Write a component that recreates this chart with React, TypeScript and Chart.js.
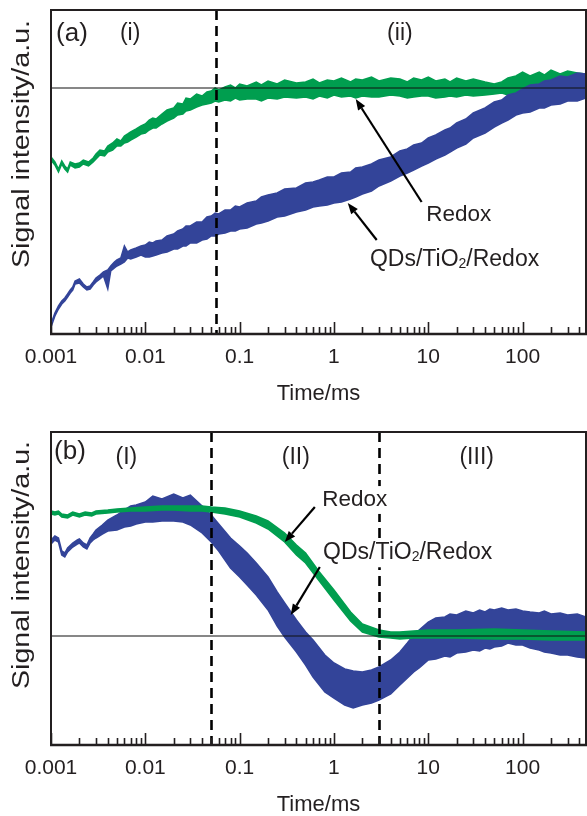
import React, { useEffect, useRef } from 'react';
import { Chart, registerables } from 'chart.js';
Chart.register(...registerables);

const GREEN = 'rgb(0,158,79)';
const BLUE = 'rgb(51,68,153)';
const INK = '#231f20';
const FONT = '"Liberation Sans", Arial, Helvetica, sans-serif';

const X_MIN = 0.001;
const X_MAX = 470;
const TICK_VALUES = [0.001, 0.01, 0.1, 1, 10, 100];
const TICK_LABELS = ['0.001', '0.01', '0.1', '1', '10', '100'];

// ---------- Panel (a) ----------
const A_REDOX_T = [0.001, 0.0011, 0.0012, 0.0013, 0.0014, 0.0015, 0.0016, 0.0018, 0.002, 0.0022, 0.0025, 0.0028, 0.003, 0.0033, 0.0037, 0.004, 0.0045, 0.005, 0.0055, 0.006, 0.0065, 0.007, 0.008, 0.009, 0.01, 0.011, 0.012, 0.013, 0.015, 0.017, 0.02, 0.022, 0.025, 0.027, 0.03, 0.035, 0.04, 0.045,
  0.05, 0.055, 0.06, 0.07, 0.08, 0.09, 0.1, 0.12, 0.15, 0.17, 0.2, 0.25, 0.3, 0.4, 0.5, 0.6, 0.7, 0.85, 1, 1.2, 1.5, 1.7, 2, 2.5, 3, 4, 5, 6, 7, 8.5, 10, 12, 15, 17, 20, 25, 30, 40, 50, 60, 70, 85, 100, 120, 150, 170, 200, 250, 300, 380, 470];
const A_REDOX_HI = [177, 172, 165, 173, 168, 165, 172, 170, 171, 174, 172, 176, 180, 184, 183, 188, 191, 195, 193, 198, 200, 202, 205, 208, 210, 214, 216, 215, 220, 224, 226, 231, 230, 236, 235, 240, 238, 242,
  243, 246, 244, 247, 249, 246, 250, 248, 252, 249, 253, 250, 254, 251, 252, 255, 251, 254, 253, 256, 252, 255, 254, 257, 253, 256, 255, 252, 256, 254, 257, 253, 255, 252, 256, 253, 255, 252, 250, 252, 256, 258, 262, 258, 262, 259, 264, 260, 263, 261, 260];
const A_REDOX_LO = [174, 169, 162, 170, 165, 162, 169, 166, 167, 170, 168, 172, 175, 179, 178, 182, 184, 188, 188, 191, 192, 194, 197, 200, 201, 204, 206, 206, 210, 213, 216, 219, 220, 223, 224, 227, 229, 230,
  231, 233, 232, 234, 233, 236, 234, 235, 235, 233, 236, 235, 237, 236, 237, 235, 238, 236, 239, 237, 238, 236, 238, 237, 237, 239, 238, 236, 237, 238, 238, 236, 237, 238, 237, 239, 238, 239, 240, 241, 239, 240, 240, 242, 242, 240, 241, 243, 241, 243, 244];

const A_QD_T = [0.001, 0.0011, 0.0012, 0.0013, 0.0014, 0.0015, 0.0016, 0.0017, 0.0018, 0.002, 0.0022, 0.0024, 0.0026, 0.0028, 0.003, 0.0033, 0.0036, 0.004, 0.0043, 0.0047, 0.005, 0.0055, 0.006, 0.0065, 0.007, 0.008, 0.009,
  0.01, 0.011, 0.012, 0.013, 0.015, 0.017, 0.02, 0.022, 0.025, 0.027, 0.03, 0.035, 0.04, 0.045, 0.05, 0.055, 0.06, 0.07, 0.08, 0.09,
  0.1, 0.12, 0.15, 0.17, 0.2, 0.25, 0.3, 0.4, 0.5, 0.6, 0.7, 0.85, 1, 1.2, 1.5, 1.7, 2, 2.5, 3, 4, 5, 6, 7, 8.5, 10, 12, 15, 17, 20, 25, 30, 40, 50, 60, 70, 85, 100, 120, 150, 170, 200, 250, 300, 380, 470];
const A_QD_HI = [10, 21, 28, 33, 36, 40, 44, 47, 53, 55, 50, 47, 48, 52, 56, 59, 62, 64, 68, 72, 74, 76, 88, 82, 84, 86, 88,
  89, 92, 91, 93, 94, 98, 100, 103, 105, 108, 108, 112, 112, 117, 118, 121, 120, 124, 124, 128,
  127, 131, 133, 137, 139, 141, 145, 146, 151, 152, 154, 157, 157, 161, 162, 166, 167, 170, 174, 177, 183, 185, 189, 191, 196, 199, 204, 206, 211, 215, 221, 226, 232, 234, 239, 241, 245, 249, 250, 253, 254, 258, 257, 261, 260];
const A_QD_LO = [7, 18, 25, 30, 33, 37, 41, 44, 50, 51, 47, 44, 45, 49, 52, 55, 58, 45, 63, 66, 68, 70, 72, 76, 75, 77, 79,
  77, 77, 78, 79, 81, 82, 85, 85, 88, 88, 91, 91, 94, 95, 98, 98, 100, 101, 103, 103,
  105, 106, 110, 111, 113, 117, 118, 122, 124, 127, 128, 129, 131, 132, 135, 137, 140, 143, 148, 153, 158, 161, 164, 168, 171, 175, 179, 182, 186, 190, 196, 201, 207, 211, 214, 219, 221, 222, 226, 226, 229, 230, 233, 233, 236];

const A_Y_MAX = 324;
const A_REF = 246;
const A_DIVIDERS = [0.056];

// ---------- Panel (b) ----------
const B_REDOX_T = [0.001, 0.0011, 0.0012, 0.0013, 0.0015, 0.0017, 0.002, 0.0023, 0.0027, 0.003, 0.004, 0.005, 0.007, 0.01, 0.015, 0.02, 0.03, 0.04, 0.05, 0.07, 0.1, 0.15, 0.2, 0.3, 0.4, 0.5, 0.7, 1, 1.5, 2, 3, 4, 5, 7, 10, 20, 50, 100, 200, 470];
const B_REDOX_HI = [234, 233, 234, 231, 230, 233, 231, 233, 232, 234, 235, 236, 237, 238, 239, 239, 239, 239, 238, 237, 234, 229, 224, 212, 200, 192, 173, 155, 133, 121, 115, 113, 113, 114, 115, 115, 116, 115, 114, 113];
const B_REDOX_LO = [231, 230, 231, 228, 227, 230, 228, 230, 229, 231, 232, 233, 234, 234, 235, 235, 234, 234, 233, 231, 228, 222, 216, 203, 190, 182, 164, 145, 124, 113, 108, 107, 106, 107, 107, 107, 106, 106, 105, 105];

const B_QD_T = [0.001, 0.0011, 0.0012, 0.0013, 0.0014, 0.0015, 0.0017, 0.0019, 0.002, 0.0022, 0.0024, 0.0026, 0.0028, 0.003, 0.0035, 0.004, 0.005, 0.006, 0.007, 0.008, 0.01, 0.012, 0.015, 0.02, 0.025, 0.03, 0.04, 0.05, 0.06, 0.08, 0.1, 0.12, 0.15, 0.2, 0.25, 0.3, 0.4, 0.5, 0.6, 0.8, 1, 1.3, 1.6, 2, 2.5, 3, 4, 5, 6, 7, 8,
  10, 12, 15, 17, 20, 25, 30, 35, 40, 45, 50, 60, 70, 85, 100, 120, 150, 170, 200, 250, 300, 380, 470];
const B_QD_HI = [205, 209, 207, 194, 192, 197, 202, 205, 206, 202, 200, 207, 211, 215, 220, 225, 230, 235, 239, 240, 243, 249, 246, 251, 247, 250, 239, 230, 221, 207, 199, 192, 182, 168, 153, 142, 125, 113, 105, 90, 82, 76, 74, 73, 75, 78, 85, 93, 102, 110, 115,
  123, 127, 128, 131, 130, 134, 132, 135, 133, 136, 135, 137, 135, 136, 134, 133, 132, 134, 131, 132, 130, 131, 128];
const B_QD_LO = [201, 205, 203, 190, 188, 193, 198, 201, 202, 198, 196, 202, 205, 207, 211, 214, 215, 218, 219, 221, 223, 223, 224, 224, 223, 220, 212, 203, 194, 177, 168, 160, 150, 135, 119, 108, 93, 80, 68, 53, 47, 40, 37, 40, 42, 45, 51, 60, 67, 73, 77,
  85, 86, 89, 88, 92, 93, 95, 94, 97, 96, 98, 99, 102, 100, 100, 97, 95, 93, 92, 90, 90, 88, 87];

const B_Y_MAX = 313;
const B_REF = 109;
const B_DIVIDERS = [0.05, 3];

type Part = { t: string; sub?: boolean };
type TextNote = { parts: Part[]; x: number; y: number; size: number; bg?: boolean };
type ArrowNote = { x1: number; y1: number; x2: number; y2: number };

const SUB_LABEL: Part[] = [{ t: 'QDs/TiO' }, { t: '2', sub: true }, { t: '/Redox' }];

const A_TEXTS: TextNote[] = [
  { parts: [{ t: '(a)' }], x: 0.00167, y: 300, size: 26 },
  { parts: [{ t: '(i)' }], x: 0.0069, y: 300, size: 23 },
  { parts: [{ t: '(ii)' }], x: 5, y: 300, size: 23 },
  { parts: [{ t: 'Redox' }], x: 21, y: 119, size: 22.5, bg: true },
  { parts: SUB_LABEL, x: 19, y: 74, size: 23, bg: true },
];
const A_ARROWS: ArrowNote[] = [
  { x1: 8.5, y1: 132, x2: 1.7, y2: 235 },
  { x1: 2.84, y1: 94, x2: 1.4, y2: 131 },
];

const B_TEXTS: TextNote[] = [
  { parts: [{ t: '(b)' }], x: 0.00159, y: 293, size: 26 },
  { parts: [{ t: '(I)' }], x: 0.0063, y: 287, size: 23 },
  { parts: [{ t: '(II)' }], x: 0.394, y: 287, size: 23 },
  { parts: [{ t: '(III)' }], x: 32.6, y: 287, size: 23 },
  { parts: [{ t: 'Redox' }], x: 1.66, y: 245, size: 22.5, bg: true },
  { parts: SUB_LABEL, x: 6.05, y: 192, size: 23, bg: true },
];
const B_ARROWS: ArrowNote[] = [
  { x1: 0.627, y1: 238, x2: 0.301, y2: 203 },
  { x1: 0.708, y1: 178, x2: 0.348, y2: 130 },
];

const Y_TITLE = 'Signal intensity/a.u.';

function minorTicks(): number[] {
  const out: number[] = [];
  for (let e = -3; e <= 2; e++) {
    for (let m = 1; m <= 9; m++) {
      const v = Number((m * Math.pow(10, e)).toPrecision(3));
      if (v >= X_MIN && v <= X_MAX) out.push(v);
    }
  }
  return out;
}

function drawParts(ctx: CanvasRenderingContext2D, parts: Part[], x: number, y: number, size: number, bg?: boolean) {
  const subSize = Math.round(size * 0.62);
  let w = 0;
  const widths: number[] = [];
  parts.forEach((p) => {
    ctx.font = `${p.sub ? subSize : size}px ${FONT}`;
    const mw = ctx.measureText(p.t).width;
    widths.push(mw);
    w += mw;
  });
  let x0 = x - w / 2;
  if (bg) {
    ctx.fillStyle = '#ffffff';
    ctx.fillRect(x0 - 3, y - size * 0.62, w + 6, size * 1.24);
  }
  ctx.fillStyle = INK;
  ctx.textBaseline = 'middle';
  ctx.textAlign = 'left';
  parts.forEach((p, i) => {
    ctx.font = `${p.sub ? subSize : size}px ${FONT}`;
    ctx.fillText(p.t, x0, p.sub ? y + size * 0.2 : y);
    x0 += widths[i];
  });
}

function drawArrow(ctx: CanvasRenderingContext2D, x1: number, y1: number, x2: number, y2: number) {
  const ang = Math.atan2(y2 - y1, x2 - x1);
  const head = 11;
  const hw = 4.2;
  const bx = x2 - head * Math.cos(ang);
  const by = y2 - head * Math.sin(ang);
  ctx.strokeStyle = '#000';
  ctx.fillStyle = '#000';
  ctx.lineWidth = 2.2;
  ctx.setLineDash([]);
  ctx.beginPath();
  ctx.moveTo(x1, y1);
  ctx.lineTo(bx, by);
  ctx.stroke();
  ctx.beginPath();
  ctx.moveTo(x2, y2);
  ctx.lineTo(bx + hw * Math.sin(ang), by - hw * Math.cos(ang));
  ctx.lineTo(bx - hw * Math.sin(ang), by + hw * Math.cos(ang));
  ctx.closePath();
  ctx.fill();
}

type PanelCfg = {
  height: number;
  padTop: number;
  xHeight: number;
  titlePad: number;
  yMax: number;
  ref: number;
  dividers: number[];
  texts: TextNote[];
  arrows: ArrowNote[];
  series: { t: number[]; hi: number[]; lo: number[]; color: string }[];
  yTitleOffset: number;
};

function band(t: number[], v: number[]) {
  return t.map((x, i) => ({ x, y: v[i] }));
}

function makeConfig(p: PanelCfg): any {
  const datasets: any[] = [
    {
      data: [{ x: X_MIN, y: p.ref }, { x: X_MAX, y: p.ref }],
      borderColor: '#111',
      borderWidth: 1.2,
      pointRadius: 0,
      fill: false,
    },
  ];
  p.series.forEach((s) => {
    datasets.push({
      data: band(s.t, s.hi),
      borderColor: s.color,
      backgroundColor: s.color,
      borderWidth: 1.5,
      pointRadius: 0,
      tension: 0,
      fill: '+1',
    });
    datasets.push({
      data: band(s.t, s.lo),
      borderColor: s.color,
      backgroundColor: s.color,
      borderWidth: 1.5,
      pointRadius: 0,
      tension: 0,
      fill: false,
    });
  });

  const framePlugin = {
    id: 'frame',
    afterDatasetsDraw(chart: any) {
      const ctx: CanvasRenderingContext2D = chart.ctx;
      const a = chart.chartArea;
      const xs = chart.scales.x;
      const ys = chart.scales.y;
      ctx.save();
      ctx.strokeStyle = '#000';
      ctx.lineWidth = 2.6;
      ctx.setLineDash([10, 6]);
      p.dividers.forEach((v) => {
        const px = Math.round(xs.getPixelForValue(v)) + 0.5;
        ctx.beginPath();
        ctx.moveTo(px, a.top);
        ctx.lineTo(px, a.bottom);
        ctx.stroke();
      });
      ctx.setLineDash([]);
      p.texts.forEach((tn) => {
        drawParts(ctx, tn.parts, xs.getPixelForValue(tn.x), ys.getPixelForValue(tn.y), tn.size, tn.bg);
      });
      p.arrows.forEach((ar) => {
        drawArrow(ctx, xs.getPixelForValue(ar.x1), ys.getPixelForValue(ar.y1), xs.getPixelForValue(ar.x2), ys.getPixelForValue(ar.y2));
      });
      ctx.strokeStyle = INK;
      ctx.lineWidth = 2;
      ctx.strokeRect(a.left, a.top, a.right - a.left, a.bottom - a.top);
      ctx.lineWidth = 2.6;
      ctx.beginPath();
      ctx.moveTo(a.left - 1, a.bottom);
      ctx.lineTo(a.right + 1, a.bottom);
      ctx.stroke();
      ctx.lineWidth = 1.6;
      minorTicks().forEach((v) => {
        const px = Math.round(xs.getPixelForValue(v)) + 0.5;
        const major = TICK_VALUES.some((tv) => Math.abs(tv - v) / tv < 1e-6);
        ctx.beginPath();
        ctx.moveTo(px, a.bottom);
        ctx.lineTo(px, a.bottom - (major ? 12 : 7));
        ctx.stroke();
      });
      ctx.restore();
    },
    afterDraw(chart: any) {
      const ctx: CanvasRenderingContext2D = chart.ctx;
      const a = chart.chartArea;
      ctx.save();
      ctx.font = `23px ${FONT}`;
      const w = ctx.measureText(Y_TITLE).width;
      ctx.translate(23, a.top + p.yTitleOffset);
      ctx.rotate(-Math.PI / 2);
      ctx.scale(248 / w, 1);
      ctx.fillStyle = INK;
      ctx.textAlign = 'center';
      ctx.textBaseline = 'middle';
      ctx.fillText(Y_TITLE, 0, 0);
      ctx.restore();
    },
  };

  return {
    type: 'line',
    data: { datasets },
    options: {
      animation: false,
      responsive: false,
      maintainAspectRatio: false,
      events: [],
      layout: { padding: { top: p.padTop, right: 1, left: 51, bottom: 0 } },
      plugins: { legend: { display: false }, tooltip: { enabled: false } },
      scales: {
        x: {
          type: 'logarithmic',
          min: X_MIN,
          max: X_MAX,
          grid: { display: false, drawTicks: false },
          border: { display: false },
          afterBuildTicks: (s: any) => {
            s.ticks = TICK_VALUES.map((v) => ({ value: v }));
          },
          afterFit: (s: any) => {
            s.height = p.xHeight;
          },
          ticks: {
            autoSkip: false,
            maxRotation: 0,
            padding: 11,
            color: INK,
            font: { family: FONT, size: 21 },
            callback: (_v: any, i: number) => TICK_LABELS[i],
          },
          title: {
            display: true,
            text: 'Time/ms',
            color: INK,
            font: { family: FONT, size: 22, lineHeight: 1 },
            padding: { top: 0, bottom: p.titlePad },
          },
        },
        y: { type: 'linear', min: 0, max: p.yMax, display: false },
      },
    },
    plugins: [framePlugin],
  };
}

const PANEL_A: PanelCfg = {
  height: 416,
  padTop: 10,
  xHeight: 82,
  titlePad: 11,
  yMax: A_Y_MAX,
  ref: A_REF,
  dividers: A_DIVIDERS,
  texts: A_TEXTS,
  arrows: A_ARROWS,
  series: [
    { t: A_QD_T, hi: A_QD_HI, lo: A_QD_LO, color: BLUE },
    { t: A_REDOX_T, hi: A_REDOX_HI, lo: A_REDOX_LO, color: GREEN },
  ],
  yTitleOffset: 134,
};

const PANEL_B: PanelCfg = {
  height: 400,
  padTop: 16,
  xHeight: 71,
  titlePad: 0,
  yMax: B_Y_MAX,
  ref: B_REF,
  dividers: B_DIVIDERS,
  texts: B_TEXTS,
  arrows: B_ARROWS,
  series: [
    { t: B_REDOX_T, hi: B_REDOX_HI, lo: B_REDOX_LO, color: GREEN },
    { t: B_QD_T, hi: B_QD_HI, lo: B_QD_LO, color: BLUE },
  ],
  yTitleOffset: 133,
};

function Panel({ cfg, top }: { cfg: PanelCfg; top: number }) {
  const ref = useRef<HTMLCanvasElement | null>(null);
  useEffect(() => {
    if (!ref.current) return;
    const chart = new Chart(ref.current, makeConfig(cfg));
    return () => chart.destroy();
  }, [cfg]);
  return (
    <canvas
      ref={ref}
      width={587}
      height={cfg.height}
      style={{ position: 'absolute', left: 0, top, width: 587, height: cfg.height, display: 'block' }}
    />
  );
}

export default function App() {
  return (
    <div style={{ position: 'absolute', left: 0, top: 0, width: 587, height: 816, background: '#fff', overflow: 'hidden' }}>
      <Panel cfg={PANEL_A} top={0} />
      <Panel cfg={PANEL_B} top={416} />
    </div>
  );
}
